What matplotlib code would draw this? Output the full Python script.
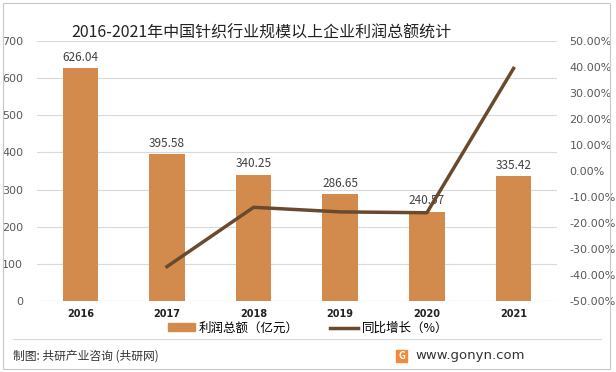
import matplotlib
matplotlib.use("Agg")
import matplotlib.pyplot as plt
from matplotlib.patches import Rectangle
from matplotlib.lines import Line2D
from matplotlib.ticker import FuncFormatter, MultipleLocator

plt.rcParams['font.family'] = ['Noto Sans CJK SC', 'DejaVu Sans']

years = ["2016", "2017", "2018", "2019", "2020", "2021"]
profit = [626.04, 395.58, 340.25, 286.65, 240.57, 335.42]
growth_years = ["2017", "2018", "2019", "2020", "2021"]
growth = [-36.81, -13.99, -15.75, -16.08, 39.43]

bar_color = "#D38B4D"
line_color = "#6A4A2F"

fig = plt.figure(figsize=(6.16, 3.72), dpi=100)
ax = fig.add_axes([0.060, 0.191, 0.844, 0.699])
ax2 = ax.twinx()

x = list(range(len(years)))
ax.bar(x, profit, width=0.41, color=bar_color, zorder=2)
for xi, v in zip(x, profit):
    ax.text(xi, v + 12, f"{v:.2f}", ha="center", va="bottom", fontsize=8.5, color="#404040", zorder=4)

gx = [years.index(y) for y in growth_years]
ax2.plot(gx, growth, color=line_color, lw=2.5, zorder=3)

ax.set_xlim(-0.5, len(years) - 0.5)
ax.set_ylim(0, 700)
ax.yaxis.set_major_locator(MultipleLocator(100))
ax2.set_ylim(-50, 50)
ax2.yaxis.set_major_locator(MultipleLocator(10))
ax2.yaxis.set_major_formatter(FuncFormatter(lambda v, p: f"{v:.2f}%"))

ax.set_xticks(x)
ax.set_xticklabels(years, fontsize=7, fontweight="bold", color="#222222", family=['DejaVu Sans'])
ax.grid(axis="y", color="#D9D9D9", lw=0.8, zorder=0)
ax.set_axisbelow(True)

for a in (ax, ax2):
    for s in a.spines.values():
        s.set_visible(False)
    a.tick_params(length=0)
ax.tick_params(axis="y", labelsize=8, labelcolor="#595959", pad=10)
ax.tick_params(axis="x", pad=6)
ax2.tick_params(axis="y", labelsize=8, labelcolor="#595959", pad=9)
for lab in ax.get_yticklabels() + ax2.get_yticklabels():
    lab.set_family(['DejaVu Sans'])
ax.axhline(0, color="#D9D9D9", lw=0.8, zorder=1)

fig.text(0.425, 0.911, "2016-2021年中国针织行业规模以上企业利润总额统计", ha="center", va="center",
         fontsize=11.5, color="#222222")

handles = [Rectangle((0, 0), 1, 1, color=bar_color),
           Line2D([0], [0], color=line_color, lw=2.5)]
fig.legend(handles, ["利润总额（亿元）", "同比增长（%）"], loc="center", bbox_to_anchor=(0.50, 0.118),
           ncol=2, frameon=False, fontsize=9, handlelength=2.2, handleheight=0.55, columnspacing=2.5,
           handletextpad=0.3)

# footer
fig.add_artist(Line2D([0.021, 0.975], [1 - 339 / 372] * 2, color="#D9D9D9", lw=0.8))
fig.text(0.021, 1 - 356 / 372, "制图: 共研产业咨询 (共研网)", ha="left", va="center", fontsize=8.5, color="#333333")
fig.add_artist(Rectangle((396 / 616, 1 - 362 / 372), 11 / 616, 12 / 372, color="#F08A3C"))
fig.text(401.5 / 616, 1 - 356 / 372, "G", ha="center", va="center", fontsize=7, color="white", fontweight="bold")
fig.text(415 / 616, 1 - 356 / 372, "www.gonyn.com", ha="left", va="center", fontsize=9.5, color="#333333",
         family=['DejaVu Sans'])

# outer border
fig.add_artist(Rectangle((3 / 616, 3 / 372), 607 / 616, 366 / 372, fill=False, ec="#C8C8C8", lw=0.8))

fig.savefig("out.png", dpi=100)
